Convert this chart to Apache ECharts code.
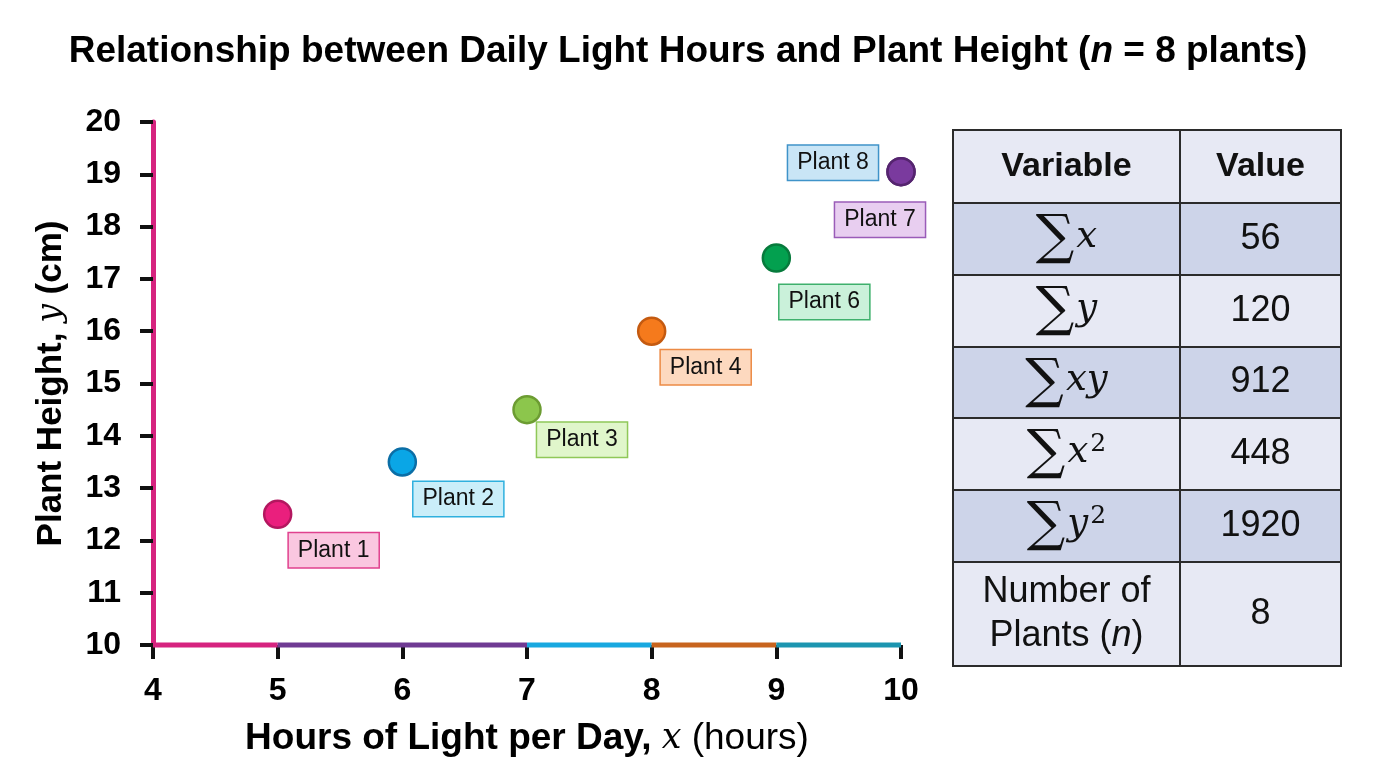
<!DOCTYPE html>
<html>
<head>
    <meta charset="utf-8">
    <script src="https://cdn.jsdelivr.net/npm/echarts@6/dist/echarts.min.js"></script>
    <style>
        html, body { margin: 0; padding: 0; background: #fff; }
    </style>
</head>
<body>
<div id="main" style="width: 1376px;height:768px;"></div>

<script type="text/javascript">
    // data
    var plantNames = ['Plant 1', 'Plant 2', 'Plant 3', 'Plant 4', 'Plant 6', 'Plant 7', 'Plant 8'];
    var lightHours = [5, 6, 7, 8, 9, 10, 10];
    var plantHeight = [12.5, 13.5, 14.5, 16, 17.4, 19.05, 19.05];

    var xTicks = [4, 5, 6, 7, 8, 9, 10];
    var yTicks = [10, 11, 12, 13, 14, 15, 16, 17, 18, 19, 20];

    // coloured pieces of the x axis
    var axisFrom = [4, 5, 7, 8, 9];
    var axisTo = [5, 7, 8, 9, 10];
    var axisColors = ['#d6237f', '#6f3a93', '#18a8e0', '#c8641e', '#1c95b0'];

    // table on the right
    var tableVars = ['Variable', '{s|∑}{v|x}', '{s|∑}{v|y}', '{s|∑}{v|xy}', '{s|∑}{v|x}{p|2}', '{s|∑}{v|y}{p|2}', 'Number of\nPlants ({i|n})'];
    var tableValues = ['Value', '56', '120', '912', '448', '1920', '8'];

    // looks
    var dotColors = ['#ea1f7d', '#0aa6e6', '#8cc64c', '#f57a1c', '#03a04f', '#7a3a9e', '#7a3a9e'];
    var dotBorders = ['#b3175f', '#0b6ea6', '#6c9c32', '#c45a10', '#077a3c', '#55246f', '#55246f'];
    var boxFills = ['#fac7e0', '#caeef9', '#e0f6cb', '#fdd9bf', '#caf1da', '#e8cef0', '#c9e5f6'];
    var boxBorders = ['#e0418e', '#2fb0de', '#8fc858', '#ec8a45', '#3eb06c', '#9a5cb8', '#3f93c9'];
    var labelOffsets = [[56, 36], [56, 37], [55, 30], [54, 36], [48, 44], [-21, 48], [-68, -9]];

    var myChart = echarts.init(document.getElementById('main'));

    var points = lightHours.map(function (x, i) {
        return {
            value: [x, plantHeight[i]],
            name: plantNames[i],
            itemStyle: { color: dotColors[i], borderColor: dotBorders[i], borderWidth: 2.5, opacity: 1 },
            label: {
                show: true,
                position: 'inside',
                offset: labelOffsets[i],
                formatter: plantNames[i],
                fontFamily: 'Liberation Sans',
                fontSize: 23,
                color: '#111',
                backgroundColor: boxFills[i],
                borderColor: boxBorders[i],
                borderWidth: 1.5,
                padding: [6, 9, 5, 9]
            }
        };
    });

    var segments = axisFrom.map(function (f, i) {
        return [f, axisTo[i], i];
    });

    // build the table with graphic elements
    var tLeft = 953, tTop = 130;
    var colW = [227, 161];
    var rowH = [73, 72, 72, 71, 72, 72, 104];
    var rowFill = ['#e7e9f4', '#cdd4e9', '#e7e9f4', '#cdd4e9', '#e7e9f4', '#cdd4e9', '#e7e9f4'];
    var cellRich = {
        s: { fontFamily: 'DejaVu Serif', fontSize: 54, color: '#111', verticalAlign: 'middle' },
        v: { fontFamily: 'DejaVu Serif', fontStyle: 'italic', fontSize: 37, color: '#111', verticalAlign: 'middle', padding: [0, 0, 4, 2] },
        p: { fontFamily: 'DejaVu Serif', fontSize: 25, color: '#111', verticalAlign: 'top', padding: [0, 0, 22, 2] },
        i: { fontFamily: 'Liberation Sans', fontStyle: 'italic', fontSize: 36, color: '#111' }
    };
    var tableEls = [];
    var y = tTop;
    rowH.forEach(function (h, r) {
        var cells = [tableVars[r], tableValues[r]];
        var x = tLeft;
        cells.forEach(function (txt, c) {
            tableEls.push({
                type: 'rect',
                shape: { x: x, y: y, width: colW[c], height: h },
                style: { fill: rowFill[r], stroke: '#2b2b2b', lineWidth: 2 }
            });
            tableEls.push({
                type: 'text',
                x: x + colW[c] / 2,
                y: y + h / 2,
                style: {
                    text: txt,
                    align: 'center',
                    verticalAlign: 'middle',
                    fontFamily: 'Liberation Sans',
                    fontWeight: r === 0 ? 'bold' : 'normal',
                    fontSize: r === 0 ? 34 : 36,
                    lineHeight: 44,
                    fill: '#111',
                    rich: cellRich
                },
                z: 10
            });
            x += colW[c];
        });
        y += h;
    });

    var option = {
        backgroundColor: '#fff',
        animation: false,
        title: {
            text: '{b|Relationship between Daily Light Hours and Plant Height (}{i|n}{b| = 8 plants)}',
            left: 'center',
            top: 28,
            textStyle: {
                fontFamily: 'Liberation Sans',
                fontSize: 37,
                rich: {
                    b: { fontFamily: 'Liberation Sans', fontWeight: 'bold', fontSize: 37, color: '#000' },
                    i: { fontFamily: 'Liberation Sans', fontWeight: 'bold', fontStyle: 'italic', fontSize: 37, color: '#000' }
                }
            }
        },
        grid: { left: 153, right: 475, top: 122, bottom: 123, outerBoundsMode: 'none' },
        xAxis: {
            type: 'value',
            min: 4,
            max: 10,
            interval: 1,
            name: '{b|Hours of Light per Day, }{v|x}{n| (hours)}',
            nameLocation: 'middle',
            nameGap: 75,
            nameTextStyle: {
                rich: {
                    b: { fontFamily: 'Liberation Sans', fontWeight: 'bold', fontSize: 37, color: '#000' },
                    v: { fontFamily: 'DejaVu Serif', fontStyle: 'italic', fontSize: 35, color: '#000' },
                    n: { fontFamily: 'Liberation Sans', fontSize: 37, color: '#000' }
                }
            },
            axisLine: { show: false },
            axisTick: { show: true, length: 14, lineStyle: { color: '#111', width: 4 } },
            axisLabel: {
                margin: 30,
                fontFamily: 'Liberation Sans',
                fontWeight: 'bold',
                fontSize: 32,
                color: '#000',
                customValues: xTicks
            },
            splitLine: { show: false }
        },
        yAxis: {
            type: 'value',
            min: 10,
            max: 20,
            interval: 1,
            name: '{b|Plant Height, }{v|y}{b| (cm)}',
            nameLocation: 'middle',
            nameRotate: 90,
            nameGap: 84,
            nameTextStyle: {
                rich: {
                    b: { fontFamily: 'Liberation Sans', fontWeight: 'bold', fontSize: 35, color: '#000' },
                    v: { fontFamily: 'DejaVu Serif', fontStyle: 'italic', fontSize: 33, color: '#000' }
                }
            },
            axisLine: { show: true, lineStyle: { color: '#d6237f', width: 5 } },
            axisTick: { show: true, length: 13, lineStyle: { color: '#111', width: 4 } },
            axisLabel: {
                margin: 32,
                fontFamily: 'Liberation Sans',
                fontWeight: 'bold',
                fontSize: 32,
                color: '#000',
                customValues: yTicks
            },
            splitLine: { show: false }
        },
        graphic: tableEls,
        series: [
            {
                type: 'custom',
                silent: true,
                clip: false,
                z: 3,
                data: segments,
                renderItem: function (params, api) {
                    var a = api.coord([api.value(0), 10]);
                    var b = api.coord([api.value(1), 10]);
                    return {
                        type: 'line',
                        shape: { x1: a[0], y1: a[1], x2: b[0], y2: b[1] },
                        style: { stroke: axisColors[api.value(2)], lineWidth: 5 }
                    };
                }
            },
            {
                type: 'scatter',
                symbolSize: 27,
                z: 5,
                data: points
            }
        ]
    };

    myChart.setOption(option);
</script>

</body>
</html>
